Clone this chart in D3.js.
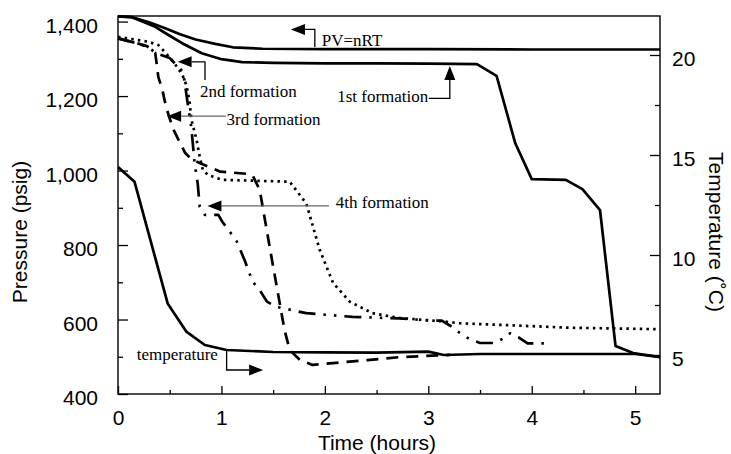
<!DOCTYPE html>
<html>
<head>
<meta charset="utf-8">
<script src="https://cdn.jsdelivr.net/npm/d3@7"></script>
<style>
  body { margin: 0; background: #fff; }
  svg { display: block; }
  .tick text { fill: #000; }
</style>
</head>
<body>
<div class="card"></div>
<script>
const w = 731;
const h = 454;
const margin = {top: 16, right: 71, bottom: 60, left: 118};

// time axis (hours) and tick labels
const xTicks = [0, 1, 2, 3, 4, 5];
const xMinor = [0.5, 1.5, 2.5, 3.5, 4.5];
const pTicks = [400, 600, 800, 1000, 1200, 1400];
const pMinor = [500, 700, 900, 1100, 1300];
const tTicks = [5, 10, 15, 20];
const tMinor = [7.5, 12.5, 17.5];

// PV=nRT (pressure, psig)
const pvTime = [0, 0.13, 0.3, 0.45, 0.6, 0.75, 0.94, 1.11, 1.4, 2, 3, 4, 5.24];
const pvP = [1414, 1412, 1398, 1383, 1366, 1352, 1340, 1331, 1327, 1326, 1326, 1325, 1325];

// 1st formation
const f1Time = [0, 0.13, 0.36, 0.5, 0.62, 0.81, 1.0, 1.2, 1.5, 2, 2.5, 3, 3.47, 3.66, 3.84, 4.0, 4.33, 4.49, 4.66, 4.81, 4.98, 5.24];
const f1P = [1414, 1412, 1386, 1362, 1342, 1315, 1299, 1291, 1289, 1288, 1288, 1287, 1286, 1254, 1074, 977, 975, 950, 894, 529, 510, 499];

// 2nd formation (dotted)
const f2Time = [0, 0.29, 0.39, 0.45, 0.52, 0.58, 0.63, 0.66, 0.69, 0.71, 0.76, 0.79, 0.82, 0.87, 1.01, 1.15, 1.66, 1.82, 1.95, 2.08, 2.24, 2.46, 2.72, 3.14, 3.3, 4.37, 5.24];
const f2P = [1359, 1346, 1337, 1319, 1297, 1275, 1252, 1230, 1189, 1136, 1082, 1037, 1002, 988, 975, 974, 970, 912, 787, 698, 648, 617, 604, 595, 590, 578, 574];

// 3rd formation (dashed)
const f3Time = [0, 0.18, 0.28, 0.36, 0.39, 0.43, 0.45, 0.49, 0.54, 0.6, 0.65, 0.7, 0.79, 0.99, 1.26, 1.3, 1.37, 1.5, 1.61, 1.66, 1.76, 1.88, 2.08, 2.41, 2.72, 3.04, 3.21];
const f3P = [1355, 1342, 1334, 1316, 1251, 1216, 1189, 1148, 1108, 1074, 1047, 1033, 1020, 997, 991, 988, 948, 742, 572, 518, 491, 478, 483, 491, 499, 503, 505];

// 4th formation (dash-dot)
const f4Time = [0, 0.18, 0.28, 0.37, 0.5, 0.63, 0.68, 0.71, 0.74, 0.77, 0.79, 0.84, 0.97, 1.01, 1.08, 1.15, 1.23, 1.3, 1.37, 1.44, 1.53, 1.82, 2.27, 2.72, 3.04, 3.13, 3.22, 3.3, 3.4, 3.5, 3.64, 3.71, 3.79, 3.88, 3.96, 4.14];
const f4P = [1355, 1342, 1333, 1315, 1302, 1265, 1168, 1114, 1020, 967, 903, 881, 881, 862, 836, 809, 755, 702, 679, 648, 634, 617, 607, 603, 597, 597, 582, 565, 547, 537, 537, 547, 563, 551, 536, 536];

// temperature (deg C, right axis)
const tempTime = [0, 0.16, 0.48, 0.66, 0.84, 1.05, 1.5, 2, 2.5, 3.0, 3.15, 3.5, 4, 4.5, 5, 5.24];
const tempC = [14.4, 13.66, 7.58, 6.17, 5.5, 5.25, 5.15, 5.13, 5.12, 5.17, 5.0, 5.05, 5.05, 5.05, 5.05, 4.9];

var svg = d3.select(".card")
  .append("svg")
  .attr("width", w)
  .attr("height", h);

var x = d3.scaleLinear().domain([0, 5.24]).range([margin.left, w - margin.right]);
var yP = d3.scaleLinear().domain([400, 1415]).range([h - margin.bottom, margin.top]);
var yT = d3.scaleLinear().domain([3.05, 21.95]).range([h - margin.bottom, margin.top]);

var sans = "'Liberation Sans', Arial, Helvetica, sans-serif";
var serif = "'Liberation Serif', 'Times New Roman', serif";

function styleAxis(g) {
  g.attr("font-size", 21).attr("font-family", sans);
  g.selectAll("line").attr("stroke", "#000").attr("stroke-width", 1.3);
  g.select(".domain").remove();
}

// left axis
svg.append("g")
  .attr("transform", "translate(" + margin.left + ",0)")
  .call(d3.axisLeft(yP).tickValues(pTicks).tickSize(-10).tickPadding(20).tickFormat(d3.format(",")))
  .call(styleAxis)
  .selectAll("text").attr("dy", "0.52em");
svg.append("g")
  .attr("transform", "translate(" + margin.left + ",0)")
  .call(d3.axisLeft(yP).tickValues(pMinor).tickSize(-5).tickFormat(""))
  .call(styleAxis);

// right axis
svg.append("g")
  .attr("transform", "translate(" + (w - margin.right) + ",0)")
  .call(d3.axisRight(yT).tickValues(tTicks).tickSize(-10).tickPadding(12).tickFormat(d3.format("d")))
  .call(styleAxis)
  .selectAll("text").attr("dy", "0.52em");
svg.append("g")
  .attr("transform", "translate(" + (w - margin.right) + ",0)")
  .call(d3.axisRight(yT).tickValues(tMinor).tickSize(-5).tickFormat(""))
  .call(styleAxis);

// bottom axis
svg.append("g")
  .attr("transform", "translate(0," + (h - margin.bottom) + ")")
  .call(d3.axisBottom(x).tickValues(xTicks).tickSize(-8).tickPadding(16.5).tickFormat(d3.format("d")))
  .call(styleAxis);
svg.append("g")
  .attr("transform", "translate(0," + (h - margin.bottom) + ")")
  .call(d3.axisBottom(x).tickValues(xMinor).tickSize(-4).tickFormat(""))
  .call(styleAxis);

// frame
svg.append("rect")
  .attr("x", margin.left)
  .attr("y", margin.top)
  .attr("width", w - margin.left - margin.right)
  .attr("height", h - margin.top - margin.bottom)
  .attr("fill", "none")
  .attr("stroke", "#000")
  .attr("stroke-width", 1.4);

// axis titles
svg.append("text")
  .attr("transform", "translate(27,232) rotate(-90)")
  .attr("text-anchor", "middle")
  .attr("font-family", sans).attr("font-size", 21)
  .text("Pressure (psig)");
svg.append("text")
  .attr("transform", "translate(709,232) rotate(90)")
  .attr("text-anchor", "middle")
  .attr("font-family", sans).attr("font-size", 21)
  .text("Temperature (˚C)");
svg.append("text")
  .attr("x", 377).attr("y", 449.5)
  .attr("text-anchor", "middle")
  .attr("font-family", sans).attr("font-size", 21)
  .text("Time (hours)");

// curves
var plot = svg.append("g");
function drawLine(ts, vs, yScale, dash) {
  var pts = ts.map((t, i) => [t, vs[i]]);
  var line = d3.line().x(d => x(d[0])).y(d => yScale(d[1]));
  plot.append("path")
    .datum(pts)
    .attr("d", line)
    .attr("fill", "none")
    .attr("stroke", "#000")
    .attr("stroke-width", 2.7)
    .attr("stroke-linejoin", "round")
    .attr("stroke-dasharray", dash);
}
drawLine(pvTime, pvP, yP, null);
drawLine(f1Time, f1P, yP, null);
drawLine(f2Time, f2P, yP, "2.5,4.2");
drawLine(f3Time, f3P, yP, "12,8");
drawLine(f4Time, f4P, yP, "17,8,2.5,8,2.5,8");
drawLine(tempTime, tempC, yT, null);

// annotations: leader path in data units (last point = arrow base), text anchor point
const annotations = [
  {label: "PV=nRT", pts: [[1.903, 1332], [1.903, 1379], [1.807, 1379]], tx: 1.97, ty: 1334, anchor: "start", color: "#000"},
  {label: "1st formation", pts: [[3.005, 1194], [3.208, 1194], [3.208, 1243]], tx: 3.0, ty: 1185, anchor: "end", color: "#000"},
  {label: "2nd formation", pts: [[0.841, 1243], [0.841, 1292], [0.712, 1292]], tx: 0.792, ty: 1197, anchor: "start", color: "#000"},
  {label: "3rd formation", pts: [[1.043, 1146], [0.61, 1146]], tx: 1.050, ty: 1123, anchor: "start", color: "#666"},
  {label: "4th formation", pts: [[2.04, 905], [1.0, 905]], tx: 2.106, ty: 900, anchor: "start", color: "#666"},
  {label: "temperature", pts: [[1.05, 5.25], [1.05, 4.25], [1.268, 4.25]], tx: 0.181, ty: 4.75, anchor: "start", color: "#000", temp: true}
];

annotations.forEach(a => {
  var ys = a.temp ? yT : yP;
  var px = a.pts.map(p => [x(p[0]), ys(p[1])]);
  var n = px.length;
  var end = px[n - 1], prev = px[n - 2];
  var dx = end[0] - prev[0], dy = end[1] - prev[1];
  var len = Math.sqrt(dx * dx + dy * dy);
  var ux = dx / len, uy = dy / len;
  var headLen = 14, headW = 5.5;
  var tip = [end[0] + ux * headLen, end[1] + uy * headLen];
  svg.append("path")
    .attr("d", d3.line()(px))
    .attr("fill", "none")
    .attr("stroke", a.color)
    .attr("stroke-width", 1.3);
  svg.append("path")
    .attr("d", d3.line()([
      tip,
      [end[0] - uy * headW, end[1] + ux * headW],
      [end[0] + uy * headW, end[1] - ux * headW]
    ]) + "Z")
    .attr("fill", "#000");
  svg.append("text")
    .attr("x", x(a.tx))
    .attr("y", ys(a.ty))
    .attr("text-anchor", a.anchor)
    .attr("font-family", serif)
    .attr("font-size", 17)
    .text(a.label);
});
</script>
</body>
</html>
